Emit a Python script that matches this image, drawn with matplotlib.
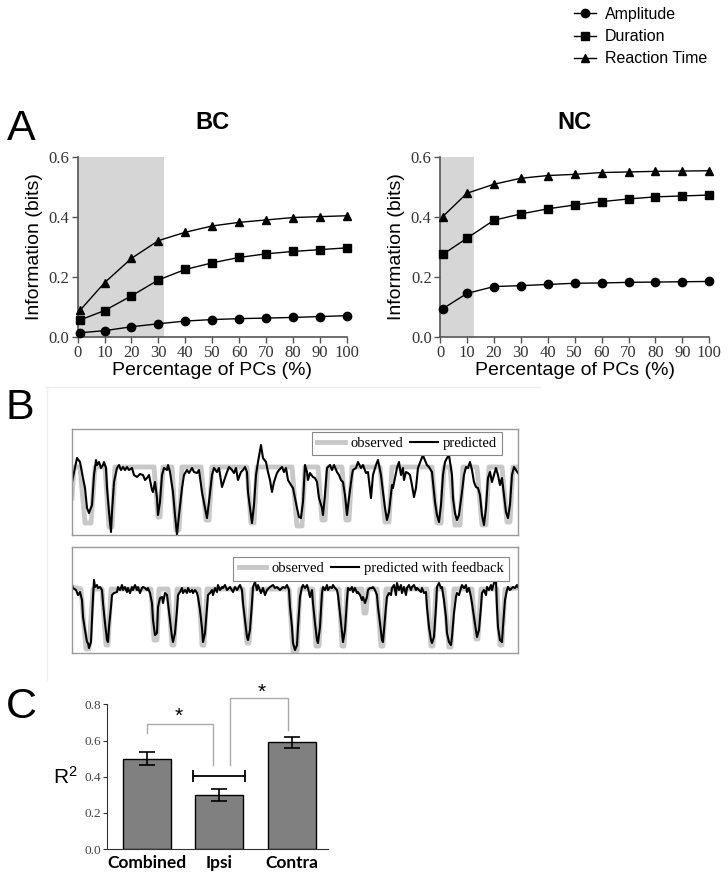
import matplotlib
matplotlib.use('Agg')
import matplotlib.pyplot as plt
from matplotlib.lines import Line2D

# ---- panel A data ----
pcs = [1, 10, 20, 30, 40, 50, 60, 70, 80, 90, 100]
bc_amplitude = [0.013, 0.020, 0.033, 0.043, 0.052, 0.057, 0.060, 0.062, 0.064, 0.067, 0.070]
bc_duration = [0.056, 0.087, 0.136, 0.189, 0.224, 0.246, 0.264, 0.276, 0.284, 0.290, 0.296]
bc_reaction = [0.089, 0.180, 0.261, 0.320, 0.348, 0.369, 0.381, 0.389, 0.397, 0.400, 0.403]
nc_amplitude = [0.093, 0.144, 0.167, 0.170, 0.174, 0.178, 0.179, 0.181, 0.182, 0.183, 0.184]
nc_duration = [0.274, 0.328, 0.388, 0.409, 0.426, 0.439, 0.450, 0.459, 0.466, 0.469, 0.472]
nc_reaction = [0.400, 0.478, 0.508, 0.528, 0.537, 0.541, 0.547, 0.549, 0.551, 0.552, 0.553]
bc_shade = 32
nc_shade = 12.6

# ---- panel B data (time in samples, signal in arbitrary units) ----
obs_top_t = [0, 2, 8, 13, 19, 23, 33, 37, 40, 43, 82, 86, 88, 91, 100, 104, 107, 110,
             129, 134, 137, 140, 175, 179, 182, 185, 220, 225, 230, 233, 246, 250, 253, 256,
             270, 274, 277, 280, 308, 313, 317, 320, 360, 365, 369, 372, 378, 383, 388, 391,
             405, 410, 414, 417, 430, 435, 438, 441, 446]
obs_top_v = [37, 68, 68, 12, 12, 68, 68, 8, 8, 68, 68, 18, 18, 68, 68, 5, 5, 68,
             68, 15, 15, 68, 68, 12, 12, 68, 68, 9, 9, 68, 68, 15, 15, 68,
             68, 15, 15, 68, 68, 13, 13, 68, 68, 12, 12, 68, 68, 10, 10, 68,
             68, 10, 10, 68, 68, 13, 13, 68, 68]

pred_top_t = [0, 5, 8, 11, 13, 15, 17, 20, 22, 24, 25, 27, 29, 31, 32, 34, 35, 37, 39, 40,
              42, 45, 47, 49, 51, 53, 55, 57, 60, 62, 65, 68, 71, 73, 75, 77, 80, 81, 83, 85,
              86, 88, 90, 92, 95, 96, 98, 101, 103, 105, 107, 110, 112, 115, 117, 120, 122, 125, 127, 130,
              133, 135, 137, 140, 142, 145, 147, 150, 153, 155, 157, 160, 162, 164, 166, 169, 171, 173, 175, 176,
              178, 180, 182, 184, 186, 189, 191, 194, 196, 198, 200, 202, 205, 207, 210, 212, 214, 216, 219, 221,
              223, 225, 227, 229, 231, 233, 235, 236, 238, 241, 243, 245, 247, 250, 251, 253, 255, 258, 260, 262,
              265, 267, 269, 271, 273, 275, 277, 280, 281, 284, 286, 289, 291, 294, 296, 299, 301, 304, 306, 309,
              311, 313, 315, 317, 320, 321, 323, 325, 327, 329, 331, 332, 334, 336, 338, 340, 342, 344, 346, 349,
              351, 352, 355, 357, 360, 361, 363, 365, 367, 369, 371, 373, 375, 377, 380, 381, 383, 385, 387, 390,
              392, 394, 396, 398, 400, 402, 404, 406, 408, 410, 412, 414, 416, 418, 420, 422, 424, 426, 428, 430,
              432, 434, 436, 438, 440, 442, 444, 446]
pred_top_v = [53, 77, 73, 57, 47, 27, 22, 30, 60, 75, 70, 73, 67, 70, 73, 67, 47, 23, 3, 23,
              53, 67, 70, 65, 68, 65, 68, 65, 67, 60, 58, 61, 60, 55, 57, 60, 45, 43, 53, 37,
              20, 33, 60, 67, 65, 70, 63, 43, 20, 0, 20, 47, 60, 65, 62, 67, 63, 62, 65, 43,
              27, 17, 33, 60, 67, 63, 67, 48, 57, 63, 68, 65, 62, 67, 55, 63, 65, 68, 63, 43,
              27, 12, 30, 60, 73, 90, 77, 73, 63, 55, 43, 53, 62, 65, 68, 63, 67, 55, 50, 47,
              37, 27, 18, 17, 33, 70, 63, 55, 62, 58, 57, 53, 37, 27, 20, 40, 67, 70, 65, 70,
              63, 60, 55, 53, 40, 20, 37, 60, 65, 67, 73, 67, 70, 62, 63, 37, 60, 70, 75, 60,
              43, 27, 15, 23, 50, 47, 57, 67, 73, 60, 67, 55, 63, 62, 60, 50, 38, 47, 67, 75,
              80, 77, 70, 68, 63, 53, 33, 20, 13, 30, 60, 73, 77, 80, 60, 37, 22, 15, 20, 43,
              60, 68, 67, 73, 65, 53, 48, 47, 40, 20, 10, 27, 57, 63, 53, 60, 67, 60, 50, 57,
              40, 23, 17, 30, 60, 68, 65, 62]

obs_bot_t = [0, 9, 14, 17, 21, 30, 34, 36, 39, 79, 82, 85, 87, 96, 100, 102, 105,
             127, 130, 132, 135, 171, 175, 177, 180, 217, 221, 225, 228, 241, 244, 247, 250,
             267, 270, 272, 275, 290, 292, 294, 296, 305, 309, 311, 314, 355, 359, 361, 364,
             372, 377, 379, 382, 400, 404, 406, 409, 425, 428, 430, 433, 446]
obs_bot_v = [66, 64, 4, 4, 64, 64, 8, 8, 64, 64, 13, 13, 64, 64, 8, 8, 64,
             64, 8, 8, 64, 64, 10, 10, 64, 64, 2, 2, 64, 64, 7, 7, 64,
             64, 7, 7, 64, 64, 40, 40, 64, 64, 7, 7, 64, 64, 7, 7, 64,
             64, 6, 6, 64, 64, 14, 14, 64, 64, 8, 8, 64, 65]

pred_bot_t = [0, 1, 4, 6, 8, 10, 11, 13, 15, 16, 17, 19, 20, 21, 22, 23, 25, 26, 28, 30,
              31, 33, 35, 36, 37, 39, 40, 42, 45, 46, 48, 50, 51, 53, 55, 56, 58, 60, 61, 63,
              65, 66, 68, 70, 71, 73, 75, 76, 78, 80, 81, 83, 85, 86, 88, 90, 91, 93, 95, 96,
              98, 100, 101, 103, 105, 106, 108, 110, 111, 113, 115, 116, 118, 120, 121, 123, 125, 126, 128, 130,
              131, 133, 135, 136, 138, 140, 141, 143, 145, 146, 148, 150, 151, 153, 155, 158, 161, 163, 165, 168,
              170, 171, 173, 175, 176, 178, 180, 181, 183, 185, 186, 189, 191, 193, 195, 198, 201, 203, 205, 208,
              211, 213, 215, 217, 218, 220, 221, 223, 225, 226, 228, 230, 231, 233, 235, 236, 238, 240, 241, 243,
              245, 246, 248, 250, 251, 253, 255, 256, 258, 260, 261, 263, 265, 266, 268, 270, 271, 273, 275, 276,
              278, 280, 281, 283, 285, 286, 288, 290, 291, 293, 295, 296, 298, 300, 301, 303, 305, 306, 308, 310,
              311, 312, 314, 315, 317, 319, 320, 322, 324, 325, 327, 329, 330, 332, 334, 335, 337, 339, 340, 342,
              344, 345, 347, 349, 350, 352, 354, 355, 357, 359, 360, 362, 364, 365, 367, 369, 370, 372, 374, 375,
              377, 379, 380, 382, 384, 385, 387, 389, 390, 392, 394, 395, 397, 399, 400, 402, 404, 405, 407, 409,
              410, 412, 414, 415, 417, 419, 420, 422, 424, 425, 426, 428, 430, 431, 433, 435, 436, 438, 440, 441,
              443, 445, 446]
pred_bot_v = [68, 65, 63, 58, 61, 53, 36, 23, 11, 10, 5, 11, 33, 56, 73, 66, 68, 65, 66, 63,
              50, 30, 13, 11, 26, 46, 58, 60, 61, 66, 63, 68, 63, 66, 61, 65, 60, 66, 63, 68,
              63, 66, 60, 65, 66, 65, 63, 65, 60, 50, 33, 18, 20, 46, 55, 56, 50, 60, 58, 50,
              33, 16, 11, 20, 43, 58, 61, 65, 60, 63, 60, 65, 61, 63, 60, 63, 60, 56, 43, 25,
              11, 20, 46, 58, 60, 63, 58, 65, 61, 68, 63, 66, 65, 68, 63, 66, 61, 66, 63, 68,
              63, 50, 33, 16, 13, 23, 50, 66, 71, 63, 68, 60, 65, 58, 63, 66, 68, 65, 66, 63,
              66, 65, 68, 63, 46, 26, 10, 3, 8, 26, 56, 66, 68, 65, 68, 65, 56, 63, 50, 30,
              13, 10, 26, 60, 66, 63, 68, 63, 66, 65, 68, 65, 63, 58, 40, 20, 11, 23, 53, 65,
              63, 66, 61, 65, 60, 61, 58, 53, 56, 50, 56, 63, 65, 65, 66, 63, 58, 46, 30, 13,
              11, 23, 46, 56, 60, 58, 65, 68, 58, 70, 63, 68, 60, 66, 58, 65, 68, 63, 66, 68,
              63, 65, 63, 61, 65, 60, 61, 46, 26, 13, 10, 16, 46, 66, 70, 65, 66, 53, 36, 20,
              11, 8, 16, 40, 56, 60, 58, 65, 68, 65, 68, 61, 65, 56, 50, 36, 23, 16, 23, 46,
              60, 63, 58, 66, 63, 68, 63, 70, 73, 46, 26, 13, 11, 26, 53, 63, 66, 63, 65, 66,
              65, 68, 66]

# ---- panel C data ----
groups = ['Combined', 'Ipsi', 'Contra']
r2_mean = [0.50, 0.30, 0.59]
r2_err = [0.037, 0.032, 0.032]

SANS = 'Liberation Sans'
SERIF = 'Liberation Serif'
plt.rcParams['mathtext.default'] = 'regular'

fig = plt.figure(figsize=(7.28, 8.82), dpi=100)


def info_panel(rect, title, amp, dur, rt, shade_to):
    ax = fig.add_axes(rect)
    ax.axvspan(0, shade_to, color='#d6d6d6', lw=0, zorder=0)
    for vals, mk in zip([amp, dur, rt], ['o', 's', '^']):
        ax.plot(pcs, vals, color='black', lw=1, marker=mk, ms=6, clip_on=False, zorder=3)
    ax.set_xlim(0, 100)
    ax.set_ylim(0, 0.6)
    ax.set_xticks(range(0, 101, 10))
    ax.set_yticks([0, 0.2, 0.4, 0.6])
    ax.set_yticklabels(['0.0', '0.2', '0.4', '0.6'])
    for s in ['top', 'right']:
        ax.spines[s].set_visible(False)
    for s in ['left', 'bottom']:
        ax.spines[s].set_color('#555555')
        ax.spines[s].set_linewidth(1.2)
    ax.tick_params(colors='#555555', labelcolor='#333333', length=4, width=1, pad=2,
                   labelfontfamily=SERIF, labelsize=12)
    ax.set_xlabel('Percentage of PCs (%)', family=SANS, fontsize=14, labelpad=1)
    ax.set_ylabel('Information (bits)', family=SANS, fontsize=14, labelpad=4)
    ax.set_title(title, family=SANS, fontsize=17, fontweight='bold', pad=20)
    return ax


info_panel([0.1067, 0.6183, 0.3695, 0.2041], 'BC', bc_amplitude, bc_duration, bc_reaction, bc_shade)
info_panel([0.6044, 0.6183, 0.3700, 0.2041], 'NC', nc_amplitude, nc_duration, nc_reaction, nc_shade)

handles = [Line2D([], [], color='black', lw=1, marker=m, ms=6) for m in ['o', 's', '^']]
fig.legend(handles, ['Amplitude', 'Duration', 'Reaction Time'], loc='upper left',
           bbox_to_anchor=(0.788, 0.992), frameon=False, handlelength=1.4, borderpad=0,
           borderaxespad=0, handletextpad=0.55, labelspacing=0.45,
           prop={'family': SANS, 'size': 11.5})

# faint frame around panel B
fig.add_artist(Line2D([0.062, 0.742], [1 - 387 / 882, 1 - 387 / 882], color='#eeeeee', lw=1))
fig.add_artist(Line2D([0.065, 0.065], [1 - 387 / 882, 1 - 680 / 882], color='#eeeeee', lw=1))


def trace_panel(rect, obs_t, obs_v, pred_t, pred_v, pred_label, anchor):
    ax = fig.add_axes(rect)
    ax.plot(obs_t, obs_v, color='#c8c8c8', lw=3.5, solid_joinstyle='round', label='observed')
    ax.plot(pred_t, pred_v, color='black', lw=1.5, label=pred_label)
    ax.set_xlim(0, 446)
    ax.set_ylim(0, 106)
    ax.set_xticks([])
    ax.set_yticks([])
    for s in ax.spines.values():
        s.set_color('#999999')
        s.set_linewidth(1)
    leg = ax.legend(loc='upper right', bbox_to_anchor=anchor, ncol=2, fancybox=False,
                    framealpha=1, edgecolor='#888888', borderaxespad=0, handlelength=1.9,
                    handletextpad=0.35, columnspacing=0.5, borderpad=0.35,
                    prop={'family': SERIF, 'size': 10.5})
    leg.get_frame().set_linewidth(0.8)
    return ax


trace_panel([0.0989, 0.3934, 0.6126, 0.1202], obs_top_t, obs_top_v, pred_top_t, pred_top_v,
            'predicted', (0.965, 0.975))
trace_panel([0.0989, 0.2596, 0.6126, 0.1202], obs_bot_t, obs_bot_v, pred_bot_t, pred_bot_v,
            'predicted with feedback', (0.98, 0.91))

# ---- panel C ----
axc = fig.add_axes([0.1466, 0.0374, 0.304, 0.164])
xpos = range(len(groups))
axc.bar(xpos, r2_mean, width=0.66, color='#808080', edgecolor='black', lw=1,
        yerr=r2_err, capsize=6, error_kw={'elinewidth': 1.2, 'capthick': 1.2})
axc.set_xlim(-0.551, 2.497)
axc.set_ylim(0, 0.8)
axc.set_yticks([0, 0.2, 0.4, 0.6, 0.8])
axc.set_yticklabels(['0.0', '0.2', '0.4', '0.6', '0.8'])
axc.set_xticks(list(xpos))
axc.set_xticklabels(groups)
for s in ['top', 'right']:
    axc.spines[s].set_visible(False)
axc.spines['left'].set_color('#333333')
axc.spines['bottom'].set_color('#333333')
axc.tick_params(axis='x', length=0, pad=4)
axc.tick_params(axis='y', length=3, colors='#333333', labelcolor='#444444', pad=1,
                labelfontfamily=SERIF, labelsize=9.5)
for lab in axc.get_xticklabels():
    lab.set_family('Lato')
    lab.set_fontweight('bold')
    lab.set_fontsize(12.5)
axc.set_ylabel('R$^{2}$', family=SANS, fontsize=15, rotation=0, labelpad=14, va='center')

# significance brackets
axc.plot([0, 0, 0.917, 0.917], [0.64, 0.694, 0.694, 0.465], color='#aaaaaa', lw=1, clip_on=False)
axc.plot([1.147, 1.147, 1.95, 1.95], [0.465, 0.833, 0.833, 0.658], color='#aaaaaa', lw=1, clip_on=False)
axc.text(0.435, 0.735, '*', ha='center', va='center', fontsize=15, family=SANS)
axc.text(1.584, 0.866, '*', ha='center', va='center', fontsize=15, family=SANS)
axc.errorbar([0.998], [0.405], xerr=[0.356], color='black', capsize=4, lw=1.3, capthick=1.3)

# panel letters
fig.text(21 / 728, 1 - 129 / 882, 'A', family=SANS, fontsize=31, ha='center', va='center')
fig.text(20 / 728, 1 - 408 / 882, 'B', family=SANS, fontsize=31, ha='center', va='center')
fig.text(21 / 728, 1 - 707 / 882, 'C', family=SANS, fontsize=31, ha='center', va='center')

fig.savefig('out.png', dpi=100)
